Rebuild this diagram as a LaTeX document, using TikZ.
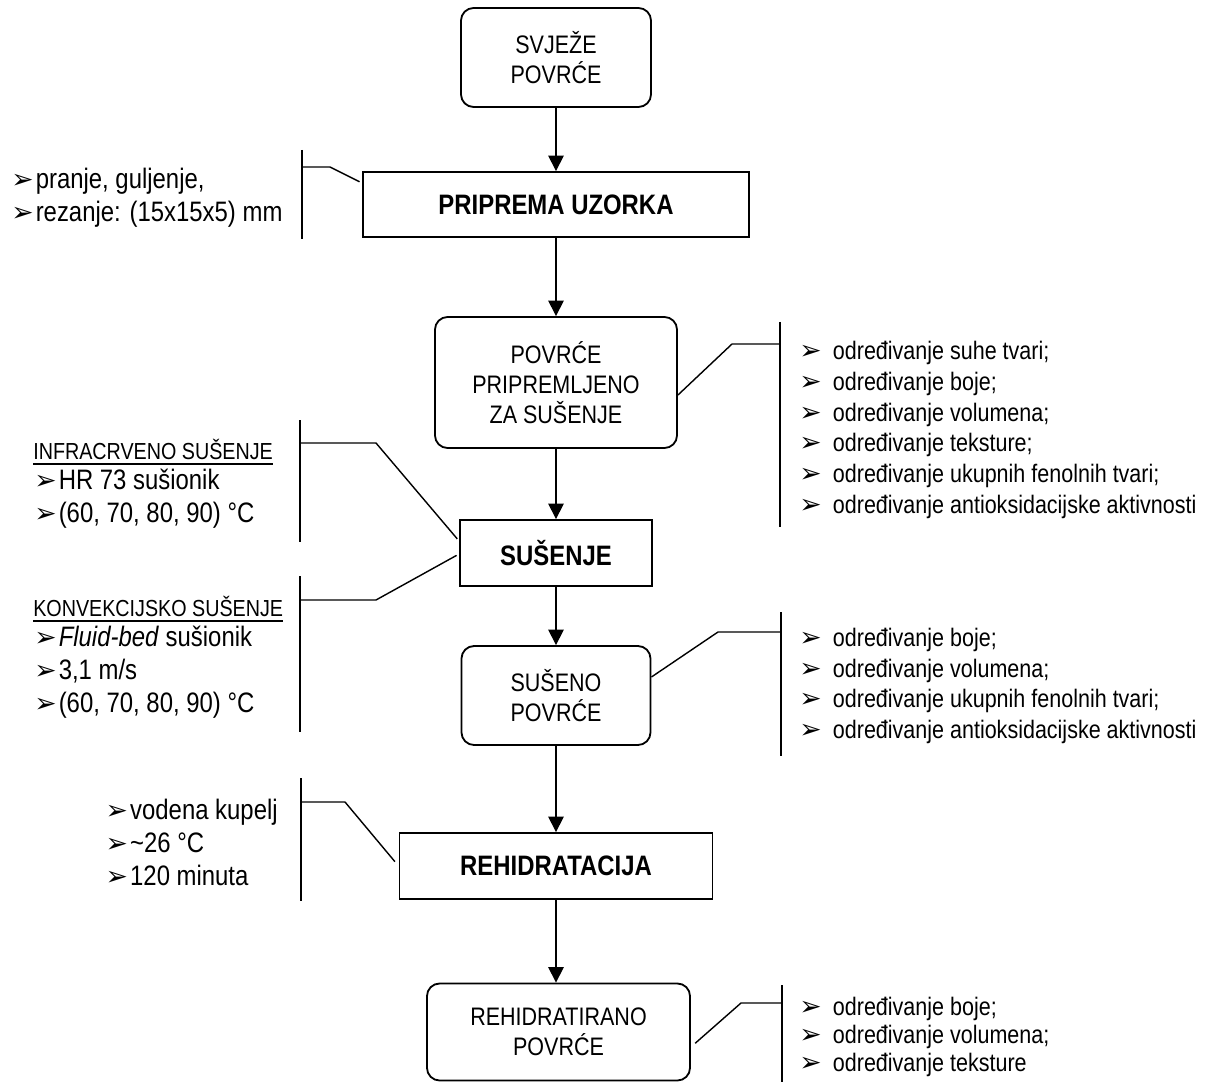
\documentclass[tikz,border=0pt]{standalone}
\usepackage{fontspec}
\setmainfont{Liberation Sans}[FakeStretch=0.85]
\newfontfamily\arrowfont{DejaVu Sans}
\usepackage{tikz}
\usetikzlibrary{arrows.meta, calc}

\newcommand{\bul}{{\arrowfont\fontsize{19}{19}\selectfont ➢}}

\begin{document}
\begin{tikzpicture}[x=0.025cm, y=-0.025cm,
    stage/.style={rectangle, rounded corners=9pt, draw=black,
                  line width=1.3pt, inner sep=0pt, align=center,
                  font=\fontsize{18}{21.5}\selectfont},
    process/.style={rectangle, draw=black, line width=1.3pt,
                    inner sep=0pt, align=center,
                    font=\bfseries\fontsize{20}{24}\selectfont},
    flow/.style={-{Triangle[width=11pt, length=11pt]}, line width=1pt},
    brace/.style={line width=1pt},
    rnote/.style={anchor=west, align=left, inner sep=0pt,
                  font=\fontsize{18}{21.9}\selectfont},
    lnote/.style={anchor=west, align=left, inner sep=0pt,
                  font=\fontsize{20}{23.5}\selectfont},
    lhead/.style={anchor=west, inner sep=0pt,
                  font=\fontsize{16.5}{20}\selectfont}
  ]
    \useasboundingbox (0,0) rectangle (1208,1082);

    % Main column
    \node[stage, minimum width=4.75cm, minimum height=2.475cm]
      (fresh) at (556, 57.5) {SVJEŽE\\POVRĆE};
    \node[process, minimum width=9.65cm, minimum height=1.625cm]
      (prep) at (556, 204.5) {PRIPREMA UZORKA};
    \node[stage, minimum width=6.05cm, minimum height=3.275cm]
      (ready) at (556, 382.5) {POVRĆE\\PRIPREMLJENO\\ZA SUŠENJE};
    \node[process, minimum width=4.8cm, minimum height=1.65cm]
      (drying) at (556, 553) {SUŠENJE};
    \node[stage, minimum width=4.725cm, minimum height=2.475cm]
      (dried) at (556, 695.5) {SUŠENO\\POVRĆE};
    \node[process, minimum width=7.825cm, minimum height=1.65cm]
      (rehyd) at (556, 866) {REHIDRATACIJA};
    \node[stage, minimum width=6.575cm, minimum height=2.425cm]
      (rehydrated) at (558.5, 1032) {REHIDRATIRANO\\POVRĆE};

    % Sample preparation (left)
    \node[lnote] (prepnote) at (11, 198)
      {\bul\hspace{1.5pt}pranje, guljenje,\\
       \bul\hspace{1.5pt}rezanje: (15x15x5) mm};
    % Infrared drying (left)
    \node[lhead] (irhead) at (33, 449) {INFRACRVENO SUŠENJE};
    \node[lnote] (irnote) at (34, 499)
      {\bul\hspace{1.5pt}HR 73 sušionik\\
       \bul\hspace{1.5pt}(60, 70, 80, 90) °C};
    % Convective drying (left)
    \node[lhead] (convhead) at (33, 606) {KONVEKCIJSKO SUŠENJE};
    \node[lnote] (convnote) at (34, 672)
      {\bul\hspace{1.5pt}\textit{Fluid-bed} sušionik\\
       \bul\hspace{1.5pt}3,1 m/s\\
       \bul\hspace{1.5pt}(60, 70, 80, 90) °C};
    % Rehydration (left)
    \node[lnote, anchor=east] (rehydnote) at (278, 842)
      {\bul\hspace{1.5pt}vodena kupelj\\
       \bul\hspace{1.5pt}\textasciitilde26 °C\\
       \bul\hspace{1.5pt}120 minuta};

    % Analyses (right)
    \node[rnote] (readynote) at (799, 430)
      {\bul\hspace{8pt}određivanje suhe tvari;\\
       \bul\hspace{8pt}određivanje boje;\\
       \bul\hspace{8pt}određivanje volumena;\\
       \bul\hspace{8pt}određivanje teksture;\\
       \bul\hspace{8pt}određivanje ukupnih fenolnih tvari;\\
       \bul\hspace{8pt}određivanje antioksidacijske aktivnosti};
    \node[rnote] (driednote) at (799, 686)
      {\bul\hspace{8pt}određivanje boje;\\
       \bul\hspace{8pt}određivanje volumena;\\
       \bul\hspace{8pt}određivanje ukupnih fenolnih tvari;\\
       \bul\hspace{8pt}određivanje antioksidacijske aktivnosti};
    \node[rnote, font=\fontsize{18}{20}\selectfont] (finalnote) at (799, 1037)
      {\bul\hspace{8pt}određivanje boje;\\
       \bul\hspace{8pt}određivanje volumena;\\
       \bul\hspace{8pt}određivanje teksture};

    % Heading underlines
    \draw[line width=1.2pt] ([yshift=-3.5pt]irhead.base west)
      -- ([yshift=-3.5pt]irhead.base east);
    \draw[line width=1.2pt] ([yshift=-3.5pt]convhead.base west)
      -- ([yshift=-3.5pt]convhead.base east);

    % Process flow
    \draw[flow] (fresh) -- (prep);
    \draw[flow] (prep) -- (ready);
    \draw[flow] (ready) -- (drying);
    \draw[flow] (drying) -- (dried);
    \draw[flow] (dried) -- (rehyd);
    \draw[flow] (rehyd.south) -- (rehyd.south |- rehydrated.north);

    % Bracket: sample preparation
    \coordinate (prepTop)  at (302, 150);
    \coordinate (prepBot)  at (302, 239);
    \coordinate (prepKnee) at (330, 167);
    \draw[brace] (prepTop) -- (prepBot);
    \draw[brace, shorten >=2pt] (prepTop |- prepKnee) -- (prepKnee)
      -- ($(prep.west)+(0,-21.5)$);

    % Brackets: drying
    \coordinate (irTop)    at (300, 420);
    \coordinate (irBot)    at (300, 542);
    \coordinate (irKnee)   at (376, 443);
    \coordinate (convTop)  at (300, 576);
    \coordinate (convBot)  at (300, 732);
    \coordinate (convKnee) at (376, 600);
    \draw[brace] (irTop) -- (irBot);
    \draw[brace] (convTop) -- (convBot);
    \draw[brace, shorten >=2pt] (irTop |- irKnee) -- (irKnee)
      -- ($(drying.west)+(0,-12)$);
    \draw[brace, shorten >=2pt] (convTop |- convKnee) -- (convKnee)
      -- ($(drying.west)+(0,1)$);

    % Bracket: rehydration
    \coordinate (rehTop)  at (301, 778);
    \coordinate (rehBot)  at (301, 901);
    \coordinate (rehKnee) at (345, 802);
    \draw[brace] (rehTop) -- (rehBot);
    \draw[brace, shorten >=4pt] (rehTop |- rehKnee) -- (rehKnee)
      -- (rehyd.west);

    % Brackets: analyses
    \coordinate (readyTop)  at (780, 322);
    \coordinate (readyBot)  at (780, 527);
    \coordinate (readyKnee) at (732, 344);
    \draw[brace] (readyTop) -- (readyBot);
    \draw[brace] ($(ready.east)+(0,12.5)$) -- (readyKnee)
      -- (readyTop |- readyKnee);

    \coordinate (driedTop)  at (781, 612);
    \coordinate (driedBot)  at (781, 756);
    \coordinate (driedKnee) at (718, 632);
    \draw[brace] (driedTop) -- (driedBot);
    \draw[brace] ($(dried.east)+(0,-18.5)$) -- (driedKnee)
      -- (driedTop |- driedKnee);

    \coordinate (finalTop)  at (782, 985);
    \coordinate (finalBot)  at (782, 1082);
    \coordinate (finalKnee) at (741, 1003);
    \draw[brace] (finalTop) -- (finalBot);
    \draw[brace, shorten <=4pt] ($(rehydrated.east)+(0,15)$) -- (finalKnee)
      -- (finalTop |- finalKnee);
\end{tikzpicture}
\end{document}
